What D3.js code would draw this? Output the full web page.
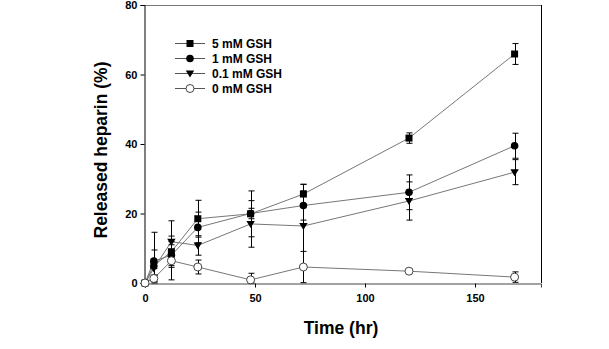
<!DOCTYPE html>
<html>
<head>
<meta charset="utf-8">
<script src="https://cdn.jsdelivr.net/npm/d3@7"></script>
<style>
  body { margin: 0; background: #fff; }
  svg text { font-family: "Liberation Sans", Arial, sans-serif; font-weight: bold; fill: #000; }
</style>
</head>
<body>
<div id="chart"></div>
<script>
// release time points (hr)
const times = [0, 4, 12, 24, 48, 72, 120, 168];

// released heparin (%) and error per GSH concentration
const gsh5 = [0, 5.0, 9.0, 18.5, 19.9, 25.6, 41.7, 65.9];
const gsh5Err = [0, 4.5, 4.5, 5.3, 6.6, 2.8, 1.5, 3.0];
const gsh1 = [0, 6.3, 8.0, 16.0, 20.0, 22.3, 26.1, 39.5];
const gsh1Err = [0, 8.3, 3.0, 4.4, 1.5, 4.2, 5.0, 3.6];
const gsh01 = [0, 4.2, 11.9, 10.8, 17.0, 16.4, 23.6, 31.9];
const gsh01Err = [0, 2.0, 6.0, 2.8, 6.7, 12.0, 5.5, 3.6];
const gsh0 = [0, 1.3, 6.4, 4.6, 0.9, 4.6, 3.4, 1.7];
const gsh0Err = [0, 1.0, 5.5, 2.0, 1.9, 4.5, 0.6, 1.5];

const seriesNames = ['5 mM GSH', '1 mM GSH', '0.1 mM GSH', '0 mM GSH'];
const xTicks = [0, 50, 100, 150];
const yTicks = [0, 20, 40, 60, 80];

const series = [
    { name: seriesNames[0], values: gsh5, errors: gsh5Err, shape: 'square' },
    { name: seriesNames[1], values: gsh1, errors: gsh1Err, shape: 'circle' },
    { name: seriesNames[2], values: gsh01, errors: gsh01Err, shape: 'triangle' },
    { name: seriesNames[3], values: gsh0, errors: gsh0Err, shape: 'open' }
];

const width = 609, height = 349;
const plot = { left: 145, right: 541, top: 5, bottom: 283 };

const svg = d3.select('#chart').append('svg')
    .attr('width', width)
    .attr('height', height);

svg.append('rect').attr('width', width).attr('height', height).attr('fill', '#fff');

const x = d3.scaleLinear().domain([0, 180]).range([plot.left, plot.right]);
const y = d3.scaleLinear().domain([0, 80]).range([plot.bottom, plot.top]);

// frame: top and right edges
svg.append('line')
    .attr('x1', plot.left).attr('x2', plot.right)
    .attr('y1', plot.top + 0.5).attr('y2', plot.top + 0.5)
    .attr('stroke', '#777');
svg.append('line')
    .attr('x1', plot.right + 0.5).attr('x2', plot.right + 0.5)
    .attr('y1', plot.top).attr('y2', plot.bottom)
    .attr('stroke', '#000');

const xAxis = svg.append('g')
    .attr('transform', `translate(0,${plot.bottom + 0.5})`)
    .call(d3.axisBottom(x).tickValues(xTicks).tickSize(4).tickPadding(7));
xAxis.select('.domain').attr('stroke', '#444');
xAxis.selectAll('text').attr('font-size', '11px').attr('font-family', null);

const yAxis = svg.append('g')
    .attr('transform', `translate(${plot.left - 0.5},0)`)
    .call(d3.axisLeft(y).tickValues(yTicks).tickSize(4).tickPadding(3));
yAxis.selectAll('text').attr('font-size', '11px').attr('font-family', null);

svg.append('text')
    .attr('x', x(90) - 2)
    .attr('y', 334)
    .attr('text-anchor', 'middle')
    .attr('font-size', '17.5px')
    .text('Time (hr)');

svg.append('text')
    .attr('transform', `translate(107,${(plot.top + plot.bottom) / 2 + 6}) rotate(-90)`)
    .attr('text-anchor', 'middle')
    .attr('font-size', '17.5px')
    .text('Released heparin (%)');

function drawMarker(g, shape, cx, cy) {
    if (shape === 'square') {
        g.append('rect')
            .attr('x', cx - 3.5).attr('y', cy - 3.5)
            .attr('width', 7).attr('height', 7)
            .attr('fill', '#000');
    } else if (shape === 'circle') {
        g.append('circle').attr('cx', cx).attr('cy', cy).attr('r', 3.8).attr('fill', '#000');
    } else if (shape === 'triangle') {
        g.append('path')
            .attr('d', `M${cx - 4.2},${cy - 3} L${cx + 4.2},${cy - 3} L${cx},${cy + 4} Z`)
            .attr('fill', '#000');
    } else {
        g.append('circle').attr('cx', cx).attr('cy', cy).attr('r', 4)
            .attr('fill', '#fff').attr('stroke', '#333').attr('stroke-width', 0.9);
    }
}

const line = d3.line()
    .x((d, i) => x(times[i]))
    .y(d => y(d));

// connecting lines
series.forEach(s => {
    svg.append('path')
        .datum(s.values)
        .attr('d', line)
        .attr('fill', 'none')
        .attr('stroke', '#777')
        .attr('stroke-width', 1);
});

// error bars
series.forEach(s => {
    s.values.forEach((v, i) => {
        const e = s.errors[i];
        if (!e) return;
        const cx = Math.round(x(times[i])) + 0.5;
        const hi = y(v + e), lo = y(Math.max(0, v - e));
        svg.append('line')
            .attr('x1', cx).attr('x2', cx)
            .attr('y1', hi).attr('y2', lo)
            .attr('stroke', '#000').attr('stroke-width', 1);
        [hi, lo].forEach(yy => {
            svg.append('line')
                .attr('x1', cx - 3).attr('x2', cx + 3)
                .attr('y1', yy).attr('y2', yy)
                .attr('stroke', '#000').attr('stroke-width', 1);
        });
    });
});

// markers
series.forEach(s => {
    const g = svg.append('g');
    s.values.forEach((v, i) => drawMarker(g, s.shape, x(times[i]), y(v)));
});

// legend
const legend = svg.append('g').attr('transform', 'translate(175,43)');
series.forEach((s, i) => {
    const row = legend.append('g').attr('transform', `translate(0,${i * 15})`);
    row.append('line')
        .attr('x1', 0).attr('x2', 30)
        .attr('y1', 0.5).attr('y2', 0.5)
        .attr('stroke', '#555');
    drawMarker(row, s.shape, 15, 0.5);
    row.append('text')
        .attr('x', 37)
        .attr('y', 4.5)
        .attr('font-size', '12px')
        .text(s.name);
});
</script>
</body>
</html>
